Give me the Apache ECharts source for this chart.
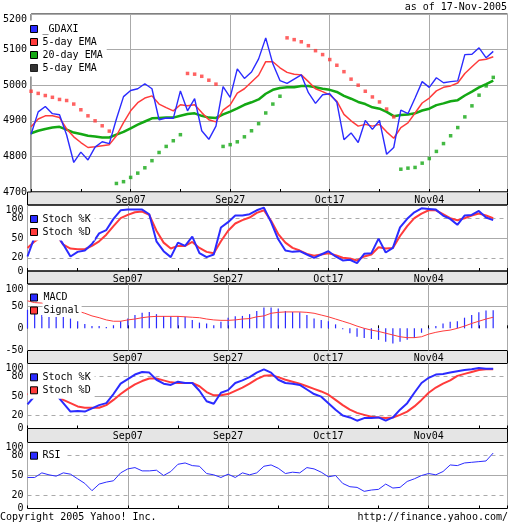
<!DOCTYPE html>
<html><head><meta charset="utf-8">
<script src="https://cdn.jsdelivr.net/npm/echarts@6/dist/echarts.min.js"></script>
<style>html,body{margin:0;padding:0;background:#fff}#c{width:512px;height:523px}</style>
</head><body><div id="c"></div>
<script>
// ---- data (trading days 18-Aug-2005 .. 17-Nov-2005, index 0..65) ----
var tickIdx = [14, 28, 42, 56];
var tickLabels = ['Sep07', 'Sep27', 'Oct17', 'Nov04'];
var close = [4862,4925,4940,4920,4917,4860,4783,4812,4790,4826,4841,4836,4905,4968,4985,4990,5004,4990,4903,4908,4907,4984,4928,4962,4872,4848,4885,4996,4966,5046,5019,5037,5074,5133,5060,5013,5005,5017,5029,4979,4949,4973,4976,4952,4847,4866,4839,4901,4876,4901,4806,4825,4930,4920,4964,5010,4994,5021,5007,5010,5012,5086,5087,5105,5077,5095];
var ema5 = [4883,4905,4914,4914,4909,4877,4855,4839,4825,4827,4830,4833,4858,4895,4928,4951,4964,4970,4947,4937,4928,4945,4942,4945,4923,4903,4897,4930,4945,4978,4990,5009,5028,5066,5066,5049,5036,5031,5029,5010,4990,4982,4973,4955,4918,4900,4885,4890,4885,4890,4869,4851,4881,4894,4922,4950,4964,4984,4994,4998,5006,5033,5052,5070,5073,5080];
var ema20 = [4865,4872,4877,4881,4883,4875,4867,4863,4858,4856,4853,4853,4861,4869,4879,4889,4898,4907,4908,4909,4909,4914,4919,4921,4914,4909,4908,4918,4926,4935,4945,4952,4960,4976,4987,4992,4994,4994,4998,4998,4994,4990,4987,4981,4970,4962,4953,4947,4938,4934,4925,4913,4916,4918,4921,4929,4934,4944,4949,4955,4958,4971,4982,4994,5003,5013];
var sarRed = [4983,4977,4971,4966,4960,4957,4947,4931,4914,4900,4886,4871,null,null,null,null,null,null,null,null,null,null,5033,5031,5025,5014,5003,null,null,null,null,null,null,null,null,null,5133,5128,5122,5111,5097,5086,5072,5056,5038,5017,5000,4983,4967,4953,4933,4911,null,null,null,null,null,null,null,null,null,null,null,null,null,null];
var sarGreen = [null,null,null,null,null,null,null,null,null,null,null,null,4724,4729,4741,4753,4768,4788,4811,4828,4844,4861,null,null,null,null,null,4828,4833,4841,4855,4872,4892,4922,4947,4969,null,null,null,null,null,null,null,null,null,null,null,null,null,null,null,null,4764,4767,4769,4781,4794,4814,4836,4858,4881,4911,4942,4972,4998,5022];
var fastK = [22,52,60,60,57,40,22,29,31,41,57,62,79,92,93,93,93,86,45,30,21,43,38,52,27,21,25,66,74,84,84,86,92,96,74,48,31,29,30,25,20,25,30,22,16,17,12,26,27,49,28,35,66,79,89,95,94,93,84,79,70,84,85,91,81,77];
var fastD = [35,45,52,56,55,40,34,33,33,38,45,55,68,80,85,89,90,85,61,43,34,38,38,44,35,29,27,45,61,72,77,81,88,92,76,56,43,35,31,26,23,25,27,24,20,19,16,22,25,36,34,35,53,68,80,87,92,92,86,80,77,80,84,87,84,80];
var macd = [42,40,30,31,30,29,22,16,10,5,5,3,7,16,22,30,35,37,32,28,27,28,26,19,13,11,7,15,24,27,28,32,39,47,47,45,39,37,36,30,22,19,16,9,-2,-11,-19,-22,-24,-26,-30,-34,-30,-26,-22,-10,-2,5,11,15,16,24,30,36,40,41];
var signal = [62,58,57,53,49,45,42,39,34,28,24,19,16,16,19,21,24,26,27,27,27,27,26,25,24,21,19,18,18,19,21,22,26,28,34,36,37,37,37,36,34,30,26,21,16,11,5,0,-4,-7,-11,-15,-19,-21,-21,-19,-13,-9,-6,-4,0,5,11,16,21,25];
var slowK = [37,50,53,53,52,39,26,27,26,31,36,39,53,69,76,83,87,86,75,69,67,72,70,70,58,42,38,55,59,70,74,79,86,91,86,75,70,69,67,60,53,49,39,29,20,17,12,16,16,17,12,17,29,39,55,70,78,83,84,86,88,90,91,93,92,92];
var slowD = [53,51,52,52,51,44,39,34,32,32,32,36,44,53,61,68,73,77,77,74,71,70,70,70,65,56,51,51,53,58,63,69,76,81,82,79,75,72,69,65,61,57,52,44,36,29,24,21,18,17,16,17,21,26,34,44,55,63,69,74,81,84,87,90,91,91];
var rsi = [47,47,54,51,49,54,52,45,38,27,37,40,42,54,60,62,57,57,58,50,56,67,69,65,64,53,51,47,52,47,54,51,54,64,66,61,53,55,54,62,60,55,48,50,38,33,32,26,28,29,37,31,32,41,45,50,53,51,56,66,65,69,70,71,72,84];
var oscLabels = [0, 20, 50, 80, 100];

// ---- styling ----
var FONT = 'DejaVu Sans Mono';
var BLUE = '#2b2bff', RED = '#ff3b3b', GREEN = '#14a814', GRID = '#aaaaaa', T = 'rgba(0,0,0,0)';
function pairs(a){ var r=[]; for(var i=0;i<a.length;i++){ if(a[i]!==null) r.push([i,a[i]]); } return r; }

var L = 27.5, W = 480;
var panels = [
  {top:14, height:178},
  {top:205, height:66},
  {top:284, height:66.5},
  {top:363.5, height:65},
  {top:442.5, height:66}
];
var grids = panels.map(function(p){ return {left:L, width:W, top:p.top, height:p.height, show:true, borderColor:'#000', borderWidth:1}; });

var xAxes = [], yAxes = [];
panels.forEach(function(p, k){
  xAxes.push({type:'value', gridIndex:k, min:0, max:67, interval:7, position:'bottom',
    axisLine:{show:false},
    axisTick:{show:true, inside:true, length:3, lineStyle:{color:'#000'}},
    splitLine:{show:false},
    axisLabel:{show:k<4, margin:3, fontFamily:FONT, fontSize:10, color:'#000',
      formatter:function(v){ var j=tickIdx.indexOf(Math.round(v)); return j>=0?tickLabels[j]:''; }}
  });
  xAxes.push({type:'value', gridIndex:k, min:0, max:67, interval:14, position:'bottom',
    axisLine:{show:false}, axisTick:{show:false}, axisLabel:{show:false},
    splitLine:{show:true, lineStyle:{color:GRID, width:1}}
  });
});
var lab = {fontFamily:FONT, fontSize:10, color:'#000', margin:4, verticalAlignMaxLabel:'top',
  formatter:function(v){ return String(v); }};
function oscAxes(k){
  var dashCols=[], solidCols=[];
  for (var v=0; v<=100; v+=10){ dashCols.push((v===20||v===80)?GRID:T); solidCols.push(v===50?GRID:T); }
  yAxes.push({type:'value', gridIndex:k, min:0, max:100, interval:10, axisLine:{show:false}, axisTick:{show:false},
    axisLabel:Object.assign({}, lab, {formatter:function(v){ return oscLabels.indexOf(v)>=0 ? String(v) : ''; }}),
    splitLine:{show:true, lineStyle:{color:dashCols, type:[4,4], width:1}}});
  yAxes.push({type:'value', gridIndex:k, min:0, max:100, interval:10, axisLine:{show:false}, axisTick:{show:false},
    axisLabel:{show:false}, splitLine:{show:true, lineStyle:{color:solidCols, width:1}}});
}
yAxes.push({type:'value', gridIndex:0, min:4700, max:5200, interval:100, axisLine:{show:false}, axisTick:{show:false},
  axisLabel:lab, splitLine:{show:true, lineStyle:{color:GRID, width:1}}});
yAxes.push({type:'value', gridIndex:0, min:4700, max:5200, interval:100, show:false});
oscAxes(1);
yAxes.push({type:'value', gridIndex:2, min:-50, max:100, interval:50, axisLine:{show:false}, axisTick:{show:false},
  axisLabel:lab, splitLine:{show:true, lineStyle:{color:[T,T,GRID,T], width:1}}});
yAxes.push({type:'value', gridIndex:2, min:-50, max:100, interval:50, show:false});
oscAxes(3);
oscAxes(4);

function line(name, data, k, color, width, z){
  return {type:'line', name:name, data:pairs(data), xAxisIndex:2*k, yAxisIndex:2*k, showSymbol:false, symbol:'none',
    lineStyle:{color:color, width:width}, itemStyle:{color:color}, z:z||2, animation:false, silent:true};
}
var series = [
  line('20-day EMA', ema20, 0, GREEN, 2.5, 2),
  line('5-day EMA', ema5, 0, RED, 1.5, 3),
  line('_GDAXI', close, 0, BLUE, 1.4, 4),
  {type:'scatter', name:'5-day EMA ', data:pairs(sarRed), xAxisIndex:0, yAxisIndex:0, symbol:'rect', symbolSize:3.5, itemStyle:{color:RED}, z:5, animation:false, silent:true},
  {type:'scatter', name:'5-day EMA ', data:pairs(sarGreen), xAxisIndex:0, yAxisIndex:0, symbol:'rect', symbolSize:3.5, itemStyle:{color:GREEN}, z:5, animation:false, silent:true},
  line('Stoch %D', fastD, 1, RED, 2, 2),
  line('Stoch %K', fastK, 1, BLUE, 2, 3),
  {type:'bar', name:'MACD', data:pairs(macd), xAxisIndex:4, yAxisIndex:4, barWidth:1.2, itemStyle:{color:BLUE}, animation:false, silent:true},
  line('Signal', signal, 2, RED, 1, 3),
  line('Stoch %D', slowD, 3, RED, 2, 2),
  line('Stoch %K', slowK, 3, BLUE, 2, 3),
  line('RSI', rsi, 4, BLUE, 1, 3)
];

function legend(top, data, textBg){
  var l = {orient:'vertical', left:28, top:top, icon:'rect', itemWidth:7, itemHeight:7, itemGap:0,
    itemStyle:{borderColor:'#000', borderWidth:1}, selectedMode:false,
    textStyle:{fontFamily:FONT, fontSize:10, color:'#000', lineHeight:13},
    data:data};
  if (textBg){ l.padding=[0,0,0,2]; l.textStyle.backgroundColor='#fff'; l.textStyle.lineHeight=11; l.textStyle.padding=[1,2,1,1]; }
  else { l.padding=[2,4,2,2]; l.backgroundColor='#fff'; }
  return l;
}
var legends = [
  legend(20.5, ['_GDAXI','5-day EMA','20-day EMA',{name:'5-day EMA ', itemStyle:{color:'#000'}}]),
  legend(210.5, ['Stoch %K','Stoch %D']),
  legend(291, ['MACD','Signal'], true),
  legend(368.8, ['Stoch %K','Stoch %D']),
  legend(447.2, ['RSI'])
];

var bands = [[192,13],[271,13],[350.5,13],[428.5,14]].map(function(b){
  return {type:'rect', z:-1, shape:{x:L, y:b[0], width:W, height:b[1]}, style:{fill:'#e5e5e5', stroke:'#000', lineWidth:1}, silent:true};
});

var ts = {fontFamily:FONT, fontSize:10, fontWeight:'normal', color:'#000', lineHeight:12};
var chart = echarts.init(document.getElementById('c'), null, {renderer:'canvas'});
chart.setOption({
  animation:false,
  backgroundColor:'#fff',
  title:[
    {text:'as of 17-Nov-2005', right:5, top:1, padding:0, textStyle:ts},
    {text:'Copyright 2005 Yahoo! Inc.', left:0, top:511, padding:0, textStyle:ts},
    {text:'http://finance.yahoo.com/', right:4, top:511, padding:0, textStyle:ts}
  ],
  grid:grids, xAxis:xAxes, yAxis:yAxes, legend:legends, series:series,
  graphic:bands
});
</script></body></html>
